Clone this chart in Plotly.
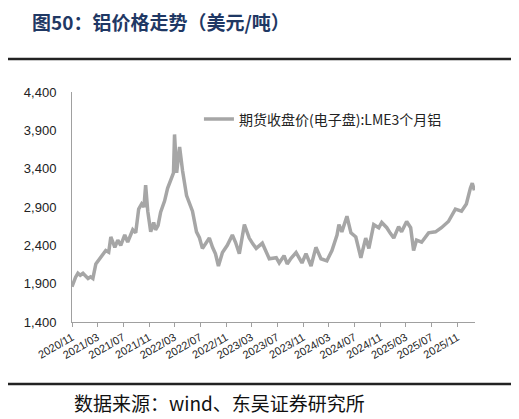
import plotly.graph_objects as go

# LME 3个月铝 收盘价（美元/吨）
dates = [
    "2020-11-01", "2020-11-06", "2020-11-18", "2020-11-29", "2020-12-10", "2020-12-23",
    "2021-01-05", "2021-01-16", "2021-01-28", "2021-02-08", "2021-02-22", "2021-03-13",
    "2021-03-27", "2021-04-10", "2021-04-24", "2021-05-04", "2021-05-23", "2021-06-06",
    "2021-06-20", "2021-07-09", "2021-07-23", "2021-08-05", "2021-08-16", "2021-08-30",
    "2021-09-13", "2021-09-27", "2021-10-08", "2021-10-16", "2021-10-26", "2021-11-09",
    "2021-11-23", "2021-12-02", "2021-12-14", "2021-12-26", "2022-01-14", "2022-01-28",
    "2022-02-11", "2022-02-25", "2022-03-02", "2022-03-07", "2022-03-12", "2022-03-26",
    "2022-04-09", "2022-04-28", "2022-05-12", "2022-05-26", "2022-06-14", "2022-06-28",
    "2022-07-12", "2022-07-28", "2022-08-14", "2022-08-29", "2022-09-12", "2022-09-26",
    "2022-10-15", "2022-11-07", "2022-12-01", "2022-12-16", "2023-01-03", "2023-01-27",
    "2023-02-19", "2023-03-08", "2023-03-24", "2023-04-22", "2023-05-10", "2023-05-25",
    "2023-06-27", "2023-07-11", "2023-08-03", "2023-08-18", "2023-09-05", "2023-09-29",
    "2023-10-27", "2023-11-15", "2023-12-09", "2024-01-01", "2024-01-25", "2024-02-22",
    "2024-03-17", "2024-04-10", "2024-04-19", "2024-05-03", "2024-05-27", "2024-06-15",
    "2024-07-08", "2024-08-01", "2024-08-24", "2024-09-08", "2024-10-01", "2024-10-25",
    "2024-11-08", "2024-12-02", "2024-12-18", "2025-01-04", "2025-01-27", "2025-02-10",
    "2025-03-06", "2025-03-25", "2025-04-08", "2025-04-22", "2025-05-16", "2025-06-02",
    "2025-06-18", "2025-07-21", "2025-08-18", "2025-09-20", "2025-10-23", "2025-11-21",
    "2025-12-14", "2026-01-02", "2026-01-11", "2026-01-21",
]
prices = [
    1860, 1900, 1985, 2036, 2010, 2036,
    2000, 1968, 1990, 1968, 2157, 2225,
    2265, 2333, 2310, 2509, 2374, 2468,
    2400, 2535, 2441, 2520, 2603, 2563,
    2873, 2940, 2900, 3184, 2846, 2576,
    2698, 2603, 2660, 2833, 2981, 3143,
    3251, 3346, 3846, 3500, 3346, 3684,
    3373, 3049, 2940, 2846, 2576, 2500,
    2360, 2430, 2495, 2374, 2290, 2130,
    2306, 2400, 2535, 2440, 2292, 2670,
    2495, 2420, 2360, 2428, 2300, 2225,
    2238, 2170, 2265, 2157, 2230, 2306,
    2170, 2292, 2130, 2374, 2225, 2198,
    2333, 2535, 2670, 2576, 2779, 2563,
    2509, 2238, 2495, 2360, 2670, 2630,
    2698, 2630, 2560, 2495, 2644, 2576,
    2711, 2630, 2333, 2468, 2441, 2500,
    2563, 2576, 2630, 2711, 2873, 2846,
    2940, 3143, 3211, 3117,
]

tick_dates = ["2020-11-01", "2021-03-01", "2021-07-01", "2021-11-01", "2022-03-01",
              "2022-07-01", "2022-11-01", "2023-03-01", "2023-07-01", "2023-11-01",
              "2024-03-01", "2024-07-01", "2024-11-01", "2025-03-01", "2025-07-01",
              "2025-11-01"]
tick_text = [d[:7].replace("-", "/") for d in tick_dates]

y_ticks = [1400, 1900, 2400, 2900, 3400, 3900, 4400]
y_text = ["{:,}".format(v) for v in y_ticks]

fig = go.Figure()
fig.add_trace(go.Scatter(
    x=dates, y=prices, mode="lines",
    name="期货收盘价(电子盘):LME3个月铝",
    line=dict(color="#A6A6A6", width=3.5),
))

# 页面 body 自带 8px 边距，这里整体收一点
fig.update_layout(
    width=511, height=411,
    margin=dict(l=64, r=44, t=84, b=97),
    paper_bgcolor="white", plot_bgcolor="white",
    font=dict(family="Liberation Sans, Noto Sans CJK SC", color="#333333"),
    showlegend=True,
    legend=dict(x=0.315, y=0.95, xanchor="left", yanchor="top",
                bgcolor="rgba(0,0,0,0)",
                font=dict(family="Noto Sans CJK SC", size=14, color="#222222")),
    xaxis=dict(
        type="date", range=["2020-11-01", "2026-01-24"],
        tickvals=tick_dates, ticktext=tick_text, tickangle=-30,
        tickfont=dict(size=11, color="#222222"),
        showgrid=False, zeroline=False,
        showline=True, linecolor="#A0A0A0", linewidth=1,
        ticks="outside", ticklen=4, tickcolor="#A0A0A0",
    ),
    yaxis=dict(
        range=[1400, 4400], tickvals=y_ticks, ticktext=y_text,
        tickfont=dict(size=13, color="#222222"),
        showgrid=False, zeroline=False,
        showline=True, linecolor="#A0A0A0", linewidth=1,
        ticks="", ticklabelstandoff=12,
    ),
)

# 标题、分隔线与来源
fig.add_annotation(text="<b>图50：铝价格走势（美元/吨）</b>", xref="paper", yref="paper",
                   x=-0.104, y=1.306, xanchor="left", yanchor="middle", showarrow=False,
                   font=dict(family="Noto Sans CJK SC", size=19, color="#1F3864"))
fig.add_annotation(text="数据来源：wind、东吴证券研究所", xref="paper", yref="paper",
                   x=0.0, y=-0.351, xanchor="left", yanchor="middle", showarrow=False,
                   font=dict(family="Noto Sans CJK SC", size=19, color="#111111"))
fig.add_shape(type="line", xref="paper", yref="paper", x0=-0.166, x1=1.094, y0=1.144, y1=1.144,
              line=dict(color="#222222", width=2.5))
fig.add_shape(type="line", xref="paper", yref="paper", x0=-0.166, x1=1.094, y0=-0.270, y1=-0.270,
              line=dict(color="#222222", width=2.5))

fig.write_html("out.html")
